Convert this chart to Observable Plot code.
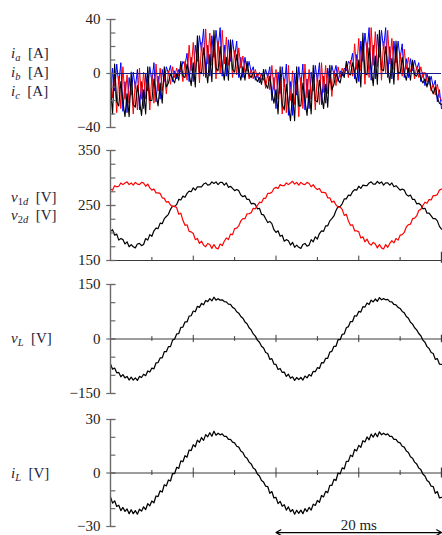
<!DOCTYPE html>
<html><head><meta charset="utf-8">
<script src="https://cdn.jsdelivr.net/npm/d3@7"></script>
<script src="https://cdn.jsdelivr.net/npm/@observablehq/plot@0.6"></script>
<style>
body{margin:0;background:#fff;}
#chart{position:relative;width:442px;height:535px;overflow:hidden;font-family:"Liberation Serif","Times New Roman",serif;color:#222;background:#fff;}
#chart svg{position:absolute;left:0;}
.lab{position:absolute;left:11px;font-size:15px;line-height:18px;white-space:nowrap;transform:translateY(-50%);color:#1e1e3c;}
.lab i{font-style:italic;}
.lab sub{font-size:10.5px;line-height:0;vertical-align:-3px;}
</style></head><body><div id="chart"></div>
<script>
// ---- sampling (ms per sample) ----
const T_STEP_MS = 0.25;
// ---- x axis ----
const xDomainMs = [0, 40];
const xTicksMajor = [10, 20, 30];
const xTicksMinor = [5, 15, 25, 35];
const xTickEnd = [40];
const scaleBarMs = [20, 40];
const scaleBarText = "20 ms";

// ---- panel 1: phase currents [A] ----
const ia = [6,-18,-3,-29, -2,-26,5,-19, -1,-22,-8,-30, -6,-27,4,-19, 1,-19,-4,-27, -1,-22,7,-13, 4,-13,0,-15, 2,-8,5,-3, 4,-2,5,-6, 9,-5,21,2, 23,1,18,-7, 23,-2,33,7, 30,6,22,-4, 24,0,32,7, 27,6,17,-3, 17,-1,19,4, 13,1,5,-4, 3,-4,3,-3, 1,-5,-1,-11, 0,-12,6,-12, 3,-19,-5,-30, -4,-29,6,-20, 2,-23,-6,-32, -3,-26,7,-18, 3,-19,-3,-27, -1,-23,8,-14, 6,-15,0,-17, 2,-9,5,-3, 4,-1,6,-3, 10,-2,22,3, 26,2,19,-8, 23,-3,34,6, 31,5,22,-5, 24,0,32,7, 26,3,16,-5, 15,-2,18,3, 12,1,6,-4, 5,-3,5,-3, 1,-6,-5,-13, -8,-16,-8,-17, -20];
const ib = [-26,4,-13,7, -8,8,-28,-6, -29,-3,-16,1, -11,3,-27,-6, -26,0,-13,5, -6,8,-21,-2, -19,3,-6,5, 0,6,-6,2, -4,3,1,9, 6,15,-6,12, -6,21,9,28, 17,33,-3,21, -2,28,12,32, 18,34,-2,21, -2,25,9,25, 12,24,-3,12, -3,12,2,9, 1,5,-5,0, -7,0,-5,3, -3,5,-20,-3, -26,1,-15,5, -10,7,-31,-6, -31,0,-16,5, -9,7,-27,-4, -26,1,-13,6, -6,8,-23,-2, -22,4,-7,6, -1,6,-6,2, -2,4,2,9, 7,15,-4,14, -6,24,9,30, 16,34,-5,21, -4,29,12,32, 18,34,-3,20, -4,24,8,24, 11,22,-3,11, -3,11,2,10, 3,8,-6,1, -9,0,-8,-2, -10,-5,-21,-12, -26];
const ic = [-10,-30,7,-21, -24,-6,-21,-32, -15,-32,1,-23, -25,-9,-20,-31, -12,-30,5,-20, -20,-4,-15,-24, -7,-22,5,-10, -7,0,-4,-7, 0,-5,9,-2, -3,7,0,-9, 8,-10,28,1, 0,19,5,-7, 14,-6,32,4, 2,20,6,-5, 12,-5,25,3, 1,14,2,-5, 5,-5,9,-1, -3,1,-3,-6, -3,-8,3,-8, -11,-2,-14,-22, -12,-30,5,-23, -27,-8,-23,-35, -15,-35,5,-24, -24,-7,-20,-31, -12,-30,6,-20, -21,-5,-16,-26, -8,-25,6,-12, -8,0,-4,-7, 1,-3,9,0, -1,8,1,-7, 10,-10,30,0, -1,19,4,-9, 13,-8,32,3, 2,20,5,-7, 11,-8,24,1, 0,12,1,-5, 4,-5,10,-1, -2,3,-4,-7, -4,-10,-2,-11, -15,-10,-18,-22, -23];
const p1Domain = [-40, 40];
const p1Ticks = [-40, -30, -20, -10, 0, 10, 20, 30, 40];
const p1Labels = [-40, 0, 40];

// ---- panel 2: dc-side voltages [V] ----
const v1d = [203,206,196,198, 187,190,188,180, 184,175,179,175, 173,180,181,177, 179,190,187,197, 194,204,209,208, 218,217,226,230, 234,243,249,248, 252,261,260,267, 265,272,276,275, 282,278,284,284, 284,289,291,287, 288,293,290,293, 288,292,292,287, 291,283,285,281, 277,279,277,269, 266,268,261,261, 253,254,252,244, 245,234,233,226, 219,221,217,206, 201,204,194,196, 185,188,186,178, 183,174,178,174, 172,179,181,176, 178,188,184,193, 189,199,204,203, 213,213,222,226, 231,241,248,248, 253,262,262,269, 268,275,279,278, 285,281,287,286, 286,291,293,289, 289,294,290,293, 287,291,291,287, 291,284,286,282, 278,280,278,270, 267,269,261,261, 253,254,251,244, 245,236,236,231, 226,226,222,212, 207];
const v2d = [280,278,286,284, 285,291,288,291, 293,288,291,287, 292,289,288,292, 291,285,289,282, 278,280,273,273, 272,264,263,256, 257,251,248,249, 246,234,236,223, 214,215,203,202, 199,188,190,181, 185,178,175,181, 179,172,179,173, 171,180,177,185, 191,188,198,197, 208,209,213,222, 226,226,235,235, 237,245,244,250, 256,255,263,263, 272,272,274,281, 283,281,288,286, 286,291,288,291, 294,289,292,287, 292,289,288,292, 290,284,288,282, 279,281,274,274, 273,264,264,256, 258,251,247,247, 243,232,234,222, 214,215,204,204, 202,191,193,184, 189,181,178,183, 180,173,179,173, 171,179,174,181, 186,182,190,187, 196,197,201,211, 215,216,226,227, 231,241,243,250, 256,254,261,260, 268,268,270,278, 280];
const p2Domain = [150, 350];
const p2Ticks = [150, 175, 200, 225, 250, 275, 300, 325, 350];
const p2Labels = [150, 250, 350];

// ---- panel 3: load voltage [V] ----
const vL = [-69,-83,-80,-93, -92,-104,-98,-107, -103,-113,-105,-113, -107,-114,-103,-106, -97,-101,-88,-91, -80,-82,-66,-65, -52,-52,-35,-35, -21,-21,-3,0, 14,15,32,33, 47,47,63,64, 77,75,90,87, 98,94,106,103, 111,105,115,107, 111,107,108,103, 102,96,95,87, 84,75,71,62, 57,47,42,31, 25,14,8,-3, -9,-20,-25,-37, -40,-56,-54,-69, -70,-84,-81,-92, -91,-103,-97,-108, -104,-114,-106,-112, -106,-113,-102,-107, -98,-102,-89,-90, -79,-81,-65,-66, -53,-53,-36,-34, -20,-20,-2,-2, 13,14,31,34, 48,48,64,63, 76,74,89,88, 99,95,107,102, 110,104,114,108, 111,108,109,103, 102,95,94,87, 84,76,72,62, 57,46,41,31, 25,15,9,-3, -9,-21,-26,-37, -40,-56,-54,-69, -70];
const p3Domain = [-150, 150];
const p3Ticks = [-150, -100, -50, 0, 50, 100, 150];
const p3Labels = [-150, 0, 150];

// ---- panel 4: load current ----
const iL = [-13.4,-16.9,-15.6,-18.8, -18.1,-21.1,-19.3,-21.5, -20.2,-22.8,-20.6,-22.8, -21.1,-23.1,-20.3,-21.4, -19,-20.5,-17.2,-18.4, -15.7,-16.7,-12.9,-13.2, -10,-10.7,-6.6,-7.2, -3.9,-4.5,-0.3,-0.3, 3.2,2.6,6.8,6.3, 9.7,8.9,12.9,12.6, 15.8,14.7,18.4,17.2, 19.9,18.3,21.5,20.3, 22.6,20.6,23.4,21.2, 22.3,21.4,21.9,20.5, 20.5,18.9,18.9,17.3, 16.9,15,14.5,12.3, 11.5,9.1,8.3,6.1, 5.1,2.8,1.9,-0.6, -1.7,-4.2,-5.1,-7.4, -7.6,-11.4,-10.4,-14, -13.7,-17.2,-15.9,-18.6, -17.8,-20.8,-19,-21.7, -20.5,-23.1,-20.9,-22.6, -20.8,-22.8,-20,-21.6, -19.3,-20.8,-17.5,-18.2, -15.4,-16.4,-12.6,-13.4, -10.3,-11,-6.9,-7, -3.6,-4.2,0,-0.5, 2.9,2.3,6.5,6.5, 10,9.2,13.2,12.4, 15.5,14.4,18.1,17.4, 20.2,18.6,21.8,20.1, 22.3,20.3,23.1,21.4, 22.3,21.4,21.9,20.5, 20.5,18.9,18.9,17.3, 16.9,15,14.5,12.3, 11.5,9.1,8.3,6.1, 5.1,2.8,1.9,-0.6, -1.7,-4.2,-5.1,-7.4, -7.6,-11.4,-10.4,-14, -13.7];
const p4Domain = [-30, 30];
const p4Ticks = [-30, -20, -10, 0, 10, 20, 30];
const p4Labels = [-30, 0, 30];

// ---- rendering ----
const timeMs = ia.map((_, i) => i * T_STEP_MS);
const AXIS = "#6a6a6a";
const ZERO = "#3a3a3a";
const TICK_IN = 0.65, TICK_OUT = -0.45;
const FONT = "Liberation Serif";
const fmt = d => (d < 0 ? "\u2212" : "") + Math.abs(d);
const chart = document.getElementById("chart");

function panel({top, height, mt, mb, yDomain, yTicks, yLabels, under = [], over = []}) {
  const svg = Plot.plot({
    width: 442, height,
    marginLeft: 110, marginRight: 1, marginTop: mt, marginBottom: mb,
    x: {domain: xDomainMs, axis: null},
    y: {domain: yDomain},
    style: {color: "#222", background: "transparent", overflow: "visible"},
    marks: [
      ...under,
      Plot.ruleX([0], {y1: yDomain[0], y2: yDomain[1], stroke: AXIS, strokeWidth: 1.4}),
      Plot.ruleY(yTicks, {x1: 0, x2: TICK_IN, stroke: AXIS, strokeWidth: 1.2}),
      Plot.ruleY(yLabels, {x1: TICK_OUT, x2: TICK_IN, stroke: AXIS, strokeWidth: 1.2}),
      Plot.axisY({ticks: yLabels, tickSize: 0, tickPadding: 10, tickFormat: fmt, label: null, fontSize: 15, fontFamily: FONT}),
      ...over
    ]
  });
  svg.style.overflow = "visible";
  svg.style.top = top + "px";
  svg.querySelectorAll("text").forEach(t => {
    t.setAttribute("font-family", FONT);
    t.style.fontFamily = "'Liberation Serif', serif";
    t.style.fontSize = "15px";
  });
  svg.querySelectorAll("g[aria-label='y-axis tick label'], g[aria-label='text']").forEach(g => {
    g.setAttribute("font-family", FONT);
    g.style.fontFamily = "'Liberation Serif', serif";
  });
  chart.appendChild(svg);
  return svg;
}

function zeroTicks(long, short) {
  return [
    Plot.ruleX(xTicksMajor, {y1: -long, y2: long, stroke: ZERO}),
    Plot.ruleX(xTicksMinor, {y1: -short, y2: short, stroke: ZERO}),
    Plot.ruleX(xTickEnd, {y1: -long, y2: long, stroke: ZERO, strokeWidth: 1.3})
  ];
}

// Panel 1
panel({
  top: 0, height: 140, mt: 19, mb: 13,
  yDomain: p1Domain, yTicks: p1Ticks, yLabels: p1Labels,
  under: [
    Plot.lineY(ib, {x: timeMs, stroke: "#0000ff", strokeWidth: 1}),
    Plot.lineY(ia, {x: timeMs, stroke: "#ff0000", strokeWidth: 1}),
    Plot.lineY(ic, {x: timeMs, stroke: "#000000", strokeWidth: 1.1}),
    Plot.ruleY([0], {x1: 0, x2: xDomainMs[1], stroke: "#1a1a8c", strokeWidth: 1})
  ]
});

// Panel 2
panel({
  top: 140, height: 130, mt: 10, mb: 10,
  yDomain: p2Domain, yTicks: p2Ticks, yLabels: p2Labels,
  under: [
    Plot.ruleY([p2Domain[0]], {x1: 0, x2: xDomainMs[1], stroke: ZERO}),
    Plot.ruleX(xTicksMajor, {y1: p2Domain[0], y2: p2Domain[0] + 8, stroke: ZERO}),
    Plot.ruleX(xTicksMinor, {y1: p2Domain[0], y2: p2Domain[0] + 5.5, stroke: ZERO}),
    Plot.ruleX(xTickEnd, {y1: p2Domain[0] - 5, y2: p2Domain[0] + 15, stroke: ZERO, strokeWidth: 1.3}),
    Plot.lineY(v1d, {x: timeMs, stroke: "#000000", strokeWidth: 1.2}),
    Plot.lineY(v2d, {x: timeMs, stroke: "#ff0000", strokeWidth: 1.2})
  ]
});

// Panel 3
panel({
  top: 270, height: 130, mt: 14, mb: 7,
  yDomain: p3Domain, yTicks: p3Ticks, yLabels: p3Labels,
  under: [
    Plot.ruleY([0], {x1: 0, x2: xDomainMs[1], stroke: ZERO}),
    ...zeroTicks(10, 6.5),
    Plot.lineY(vL, {x: timeMs, stroke: "#000000", strokeWidth: 1.25})
  ]
});

// Panel 4
const barMid = (scaleBarMs[0] + scaleBarMs[1]) / 2;
panel({
  top: 400, height: 135, mt: 19, mb: 9,
  yDomain: p4Domain, yTicks: p4Ticks, yLabels: p4Labels,
  under: [
    Plot.ruleY([0], {x1: 0, x2: xDomainMs[1], stroke: ZERO}),
    ...zeroTicks(2.8, 1.4),
    Plot.lineY(iL, {x: timeMs, stroke: "#000000", strokeWidth: 1.25})
  ],
  over: [
    Plot.arrow(scaleBarMs, {x1: barMid, x2: d => d, y1: -33.4, y2: -33.4, stroke: "#000", strokeWidth: 1.2, headLength: 7}),
    Plot.text([scaleBarText], {x: barMid, y: -29, fontSize: 15, fontFamily: FONT, fill: "#222", textAnchor: "middle"})
  ]
});

// Left-hand quantity labels
const labels = [
  {y: 53, html: '<i>i</i><sub><i>a</i></sub>&nbsp;&nbsp;[A]'},
  {y: 72, html: '<i>i</i><sub><i>b</i></sub>&nbsp;&nbsp;[A]'},
  {y: 90.5, html: '<i>i</i><sub><i>c</i></sub>&nbsp;&nbsp;[A]'},
  {y: 197, html: '<i>v</i><sub>1<i>d</i></sub>&nbsp;&nbsp;[V]'},
  {y: 215, html: '<i>v</i><sub>2<i>d</i></sub>&nbsp;&nbsp;[V]'},
  {y: 338, html: '<i>v</i><sub><i>L</i></sub>&nbsp;&nbsp;[V]'},
  {y: 473, html: '<i>i</i><sub><i>L</i></sub>&nbsp;&nbsp;[V]'}
];
for (const l of labels) {
  const d = document.createElement("div");
  d.className = "lab";
  d.style.top = l.y + "px";
  d.innerHTML = l.html;
  chart.appendChild(d);
}
</script>
</body></html>
